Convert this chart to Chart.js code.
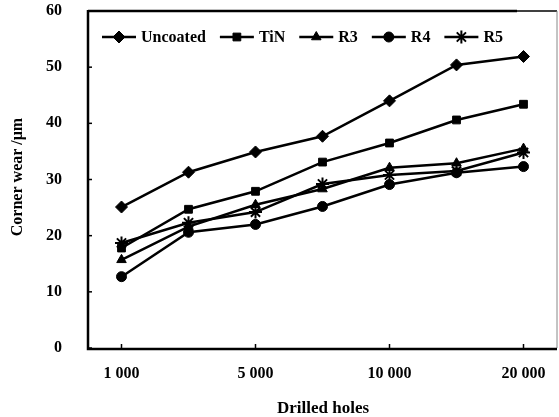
<!DOCTYPE html>
<html>
<head>
<meta charset="utf-8">
<script src="https://cdn.jsdelivr.net/npm/chart.js@4"></script>
<style>
html,body{margin:0;padding:0;background:#fff;}
#wrap{width:559px;height:417px;position:relative;}
</style>
</head>
<body>
<div id="wrap"><canvas id="c" width="559" height="417"></canvas></div>
<script>
const tickLabels = ['1 000', '', '5 000', '', '10 000', '', '20 000'];
const seriesNames = ['Uncoated', 'TiN', 'R3', 'R4', 'R5'];
const uncoated = [25.1, 31.3, 34.9, 37.7, 44.0, 50.4, 51.9];
const tin      = [17.8, 24.7, 27.9, 33.1, 36.5, 40.6, 43.4];
const r3       = [15.7, 21.6, 25.5, 28.3, 32.1, 32.9, 35.5];
const r4       = [12.7, 20.6, 22.0, 25.2, 29.1, 31.2, 32.3];
const r5       = [18.7, 22.3, 24.2, 29.2, 30.8, 31.5, 34.8];
const yTitle = 'Corner wear /μm';
const xTitle = 'Drilled holes';

const FONT = "'Liberation Serif', 'Times New Roman', serif";
const styles = [
  {pointStyle:'rectRot', r:6},
  {pointStyle:'rect', r:5.5},
  {pointStyle:'triangle', r:5.5},
  {pointStyle:'circle', r:5},
  {pointStyle:'star', r:6.5}
];
const allData = [uncoated, tin, r3, r4, r5];
const datasets = allData.map((d, i) => ({
  label: seriesNames[i],
  data: d,
  borderColor: '#000',
  backgroundColor: '#000',
  borderWidth: 2.5,
  pointStyle: styles[i].pointStyle,
  pointRadius: styles[i].r,
  pointBackgroundColor: '#000',
  pointBorderColor: '#000',
  pointBorderWidth: styles[i].pointStyle === 'star' ? 2 : 1,
  tension: 0,
  fill: false
}));

const framePlugin = {
  id: 'frame',
  afterDraw(chart) {
    const ctx = chart.ctx;
    const a = chart.chartArea;
    const xs = chart.scales.x, ys = chart.scales.y;
    ctx.save();
    ctx.strokeStyle = '#000';
    ctx.lineWidth = 2.5;
    ctx.beginPath();
    ctx.moveTo(a.left, a.top); ctx.lineTo(a.right - 40, a.top);
    ctx.stroke();
    ctx.lineWidth = 1.5;
    ctx.beginPath();
    ctx.moveTo(a.right - 40, a.top); ctx.lineTo(a.right, a.top);
    ctx.stroke();
    ctx.strokeStyle = '#888';
    ctx.lineWidth = 1;
    ctx.beginPath();
    ctx.moveTo(a.right, a.top); ctx.lineTo(a.right, a.bottom);
    ctx.stroke();
    ctx.strokeStyle = '#000';
    ctx.lineWidth = 2.5;
    ctx.beginPath();
    ctx.moveTo(a.left, a.top - 1); ctx.lineTo(a.left, a.bottom + 1); ctx.lineTo(a.right, a.bottom + 1);
    ctx.stroke();
    ctx.lineWidth = 1.5;
    ys.ticks.forEach(t => {
      const y = ys.getPixelForValue(t.value);
      ctx.beginPath(); ctx.moveTo(a.left, y); ctx.lineTo(a.left + 4, y); ctx.stroke();
    });
    tickLabels.forEach((lab, i) => {
      if (!lab) return;
      const x = xs.getPixelForValue(i);
      ctx.beginPath(); ctx.moveTo(x, a.bottom); ctx.lineTo(x, a.bottom - 4); ctx.stroke();
    });
    ctx.fillStyle = '#000';
    ctx.textAlign = 'center';
    ctx.textBaseline = 'middle';
    ctx.font = "bold 17px " + FONT;
    ctx.fillText(xTitle, 323, 409);
    ctx.font = "bold 16px " + FONT;
    ctx.save();
    ctx.translate(18, 177);
    ctx.rotate(-Math.PI / 2);
    ctx.fillText(yTitle, 0, 0);
    ctx.restore();
    let x = 102;
    const ly = 37;
    ctx.font = "bold 16px " + FONT;
    ctx.textAlign = 'left';
    chart.data.datasets.forEach((ds, i) => {
      const lineLen = 34;
      ctx.strokeStyle = '#000';
      ctx.fillStyle = '#000';
      ctx.lineWidth = 2.5;
      ctx.beginPath(); ctx.moveTo(x, ly); ctx.lineTo(x + lineLen, ly); ctx.stroke();
      ctx.lineWidth = ds.pointBorderWidth;
      Chart.helpers.drawPoint(ctx, {
        pointStyle: ds.pointStyle, rotation: 0, radius: ds.pointRadius, borderWidth: ds.pointBorderWidth
      }, x + lineLen / 2, ly);
      ctx.fillStyle = '#000';
      ctx.fillText(ds.label, x + lineLen + 5, ly + 1);
      x += lineLen + 5 + ctx.measureText(ds.label).width + 14;
    });
    ctx.restore();
  }
};

new Chart(document.getElementById('c'), {
  type: 'line',
  data: { labels: tickLabels, datasets },
  plugins: [framePlugin],
  options: {
    responsive: false,
    animation: false,
    events: [],
    layout: { autoPadding: false, padding: { left: 0, top: 11, right: 2, bottom: 0 } },
    plugins: { legend: { display: false }, tooltip: { enabled: false } },
    scales: {
      x: {
        type: 'category',
        offset: true,
        grid: { display: false, drawTicks: false },
        border: { display: false },
        ticks: { color: '#000', font: { family: FONT, size: 16, weight: 'bold' }, padding: 16, maxRotation: 0, autoSkip: false },
        afterFit(s) { s.height = 69; s.paddingLeft = 0; s.paddingRight = 0; }
      },
      y: {
        min: 0, max: 60,
        grid: { display: false, drawTicks: false },
        border: { display: false },
        ticks: { stepSize: 10, color: '#000', font: { family: FONT, size: 16, weight: 'bold' }, padding: 26 },
        afterFit(s) { s.width = 88; s.paddingTop = 0; s.paddingBottom = 0; }
      }
    }
  }
});
</script>
</body>
</html>
